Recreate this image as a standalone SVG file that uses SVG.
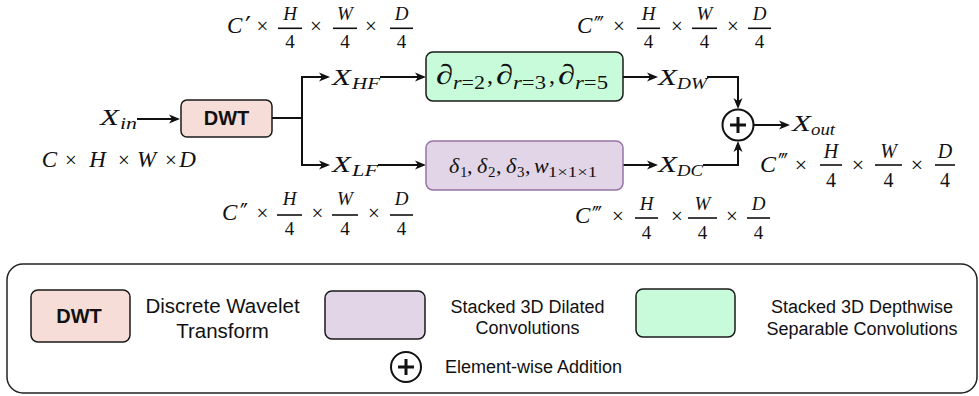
<svg xmlns="http://www.w3.org/2000/svg" width="979" height="396" viewBox="0 0 979 396">
<defs>
<style>
.m{font-family:"Liberation Serif","DejaVu Serif",serif;fill:#111}
.i{font-style:italic}
.p{font-family:"DejaVu Serif",serif;fill:#111}
.s{font-family:"Liberation Sans",Arial,sans-serif;fill:#111}
.b{font-weight:bold}
.bar{stroke:#111;stroke-width:1.6}
.c{fill:none;stroke:#111;stroke-width:2}
.box{stroke:#1a1a1a;stroke-width:1.5}
</style>
<marker id="ah" markerUnits="userSpaceOnUse" markerWidth="11" markerHeight="10" refX="3" refY="5" orient="auto">
<path d="M0,0.5 L11,5 L0,9.5 L3,5 Z" fill="#111"/>
</marker>
</defs>
<rect width="979" height="396" fill="#fff"/>

<g id="connectors">
<path class="c" d="M137,119 H172" marker-end="url(#ah)"/>
<path class="c" d="M272,118 H302 V77 H322" marker-end="url(#ah)"/>
<path class="c" d="M302,118 V165 H322" marker-end="url(#ah)"/>
<path class="c" d="M380,77 H418" marker-end="url(#ah)"/>
<path class="c" d="M378,165 H418" marker-end="url(#ah)"/>
<path class="c" d="M623,77 H650" marker-end="url(#ah)"/>
<path class="c" d="M623,165 H650" marker-end="url(#ah)"/>
<path class="c" d="M707,77 H738 V101" marker-end="url(#ah)"/>
<path class="c" d="M703,165 H738 V149" marker-end="url(#ah)"/>
<path class="c" d="M754,125 H782" marker-end="url(#ah)"/>
</g>

<g id="dwt">
<rect class="box" x="181" y="100" width="91" height="37" rx="6" fill="#f6ddd8"/>
<text class="s b" x="226.5" y="125" font-size="20" text-anchor="middle">DWT</text>
</g>

<g id="dw-conv">
<rect class="box" x="426" y="52" width="197" height="49" rx="7" fill="#c8fbd9"/>
<text class="m i" font-size="28" x="436" y="84" textLength="17" lengthAdjust="spacingAndGlyphs">∂</text>
<text class="m" font-size="18" x="453" y="89" textLength="32" lengthAdjust="spacingAndGlyphs"><tspan class="i">r</tspan>=2</text>
<text class="m" font-size="24" x="487" y="83">,</text>
<text class="m i" font-size="28" x="496" y="84" textLength="17" lengthAdjust="spacingAndGlyphs">∂</text>
<text class="m" font-size="18" x="513" y="89" textLength="33" lengthAdjust="spacingAndGlyphs"><tspan class="i">r</tspan>=3</text>
<text class="m" font-size="24" x="549" y="83">,</text>
<text class="m i" font-size="28" x="558" y="84" textLength="17" lengthAdjust="spacingAndGlyphs">∂</text>
<text class="m" font-size="18" x="575" y="89" textLength="33" lengthAdjust="spacingAndGlyphs"><tspan class="i">r</tspan>=5</text>
</g>

<g id="dil-conv">
<rect x="426" y="141" width="197" height="49" rx="7" fill="#e1d5e7" stroke="#9673a6" stroke-width="1.5"/>
<text class="m i" font-size="22" x="449" y="173">δ</text>
<text class="m" font-size="15" x="460" y="177">1</text>
<text class="m" font-size="22" x="467" y="173">,</text>
<text class="m i" font-size="22" x="477" y="173">δ</text>
<text class="m" font-size="15" x="488" y="177">2</text>
<text class="m" font-size="22" x="496" y="173">,</text>
<text class="m i" font-size="22" x="506" y="173">δ</text>
<text class="m" font-size="15" x="517" y="177">3</text>
<text class="m" font-size="22" x="525" y="173">,</text>
<text class="m i" font-size="22" x="534" y="173">w</text>
<text class="m" font-size="15" x="548" y="177" textLength="49" lengthAdjust="spacingAndGlyphs">1×1×1</text>
</g>

<g id="add">
<circle cx="738" cy="125" r="15.5" fill="#fff" stroke="#111" stroke-width="2"/>
<path d="M730,125 H746 M738,117 V133" stroke="#111" stroke-width="3"/>
</g>

<g id="x-labels">
<text class="m i" font-size="24" x="100" y="125" textLength="19" lengthAdjust="spacingAndGlyphs">X</text>
<text class="m i" font-size="16" x="120" y="129" textLength="17" lengthAdjust="spacingAndGlyphs">in</text>
<text class="m i" font-size="24" x="332" y="85" textLength="19" lengthAdjust="spacingAndGlyphs">X</text>
<text class="m i" font-size="16" x="352" y="89" textLength="28" lengthAdjust="spacingAndGlyphs">HF</text>
<text class="m i" font-size="24" x="332" y="172" textLength="19" lengthAdjust="spacingAndGlyphs">X</text>
<text class="m i" font-size="16" x="352" y="176" textLength="26" lengthAdjust="spacingAndGlyphs">LF</text>
<text class="m i" font-size="24" x="658" y="85" textLength="19" lengthAdjust="spacingAndGlyphs">X</text>
<text class="m i" font-size="16" x="677" y="89" textLength="30" lengthAdjust="spacingAndGlyphs">DW</text>
<text class="m i" font-size="24" x="658" y="172" textLength="19" lengthAdjust="spacingAndGlyphs">X</text>
<text class="m i" font-size="16" x="677" y="176" textLength="26" lengthAdjust="spacingAndGlyphs">DC</text>
<text class="m i" font-size="24" x="792" y="131" textLength="19" lengthAdjust="spacingAndGlyphs">X</text>
<text class="m i" font-size="16" x="811" y="135" textLength="24" lengthAdjust="spacingAndGlyphs">out</text>
</g>

<g id="dim-in">
<text class="m i" font-size="23" x="49.5" y="167" text-anchor="middle">C</text>
<text class="m" font-size="21" x="71" y="167" text-anchor="middle">×</text>
<text class="m i" font-size="23" x="97.5" y="167" text-anchor="middle">H</text>
<text class="m" font-size="21" x="124" y="167" text-anchor="middle">×</text>
<text class="m i" font-size="23" x="146.5" y="167" text-anchor="middle">W</text>
<text class="m" font-size="21" x="171" y="167" text-anchor="middle">×</text>
<text class="m i" font-size="23" x="187.5" y="167" text-anchor="middle">D</text>
</g>

<g id="dim-hf">
<text class="m i" font-size="23" x="227" y="33">C</text><text class="p" font-size="26" x="245" y="35" textLength="6" lengthAdjust="spacingAndGlyphs">′</text>
<text class="m" font-size="21" x="262.5" y="33" text-anchor="middle">×</text>
<text class="m i" font-size="19" x="290" y="20" text-anchor="middle">H</text>
<line class="bar" x1="278" y1="28.3" x2="302" y2="28.3"/>
<text class="m" font-size="19" x="290" y="48" text-anchor="middle">4</text>
<text class="m" font-size="21" x="316" y="33" text-anchor="middle">×</text>
<text class="m i" font-size="19" x="345" y="20" text-anchor="middle">W</text>
<line class="bar" x1="333" y1="28.3" x2="357" y2="28.3"/>
<text class="m" font-size="19" x="345" y="48" text-anchor="middle">4</text>
<text class="m" font-size="21" x="371" y="33" text-anchor="middle">×</text>
<text class="m i" font-size="19" x="401.5" y="20" text-anchor="middle">D</text>
<line class="bar" x1="390" y1="28.3" x2="413" y2="28.3"/>
<text class="m" font-size="19" x="401.5" y="48" text-anchor="middle">4</text>
</g>

<g id="dim-dw">
<text class="m i" font-size="23" x="577" y="33">C</text><text class="p" font-size="26" x="594" y="35" textLength="10" lengthAdjust="spacingAndGlyphs">‴</text>
<text class="m" font-size="21" x="619" y="33" text-anchor="middle">×</text>
<text class="m i" font-size="19" x="648.5" y="20" text-anchor="middle">H</text>
<line class="bar" x1="637" y1="28.3" x2="660" y2="28.3"/>
<text class="m" font-size="19" x="648.5" y="48" text-anchor="middle">4</text>
<text class="m" font-size="21" x="677" y="33" text-anchor="middle">×</text>
<text class="m i" font-size="19" x="704.5" y="20" text-anchor="middle">W</text>
<line class="bar" x1="692" y1="28.3" x2="717" y2="28.3"/>
<text class="m" font-size="19" x="704.5" y="48" text-anchor="middle">4</text>
<text class="m" font-size="21" x="733" y="33" text-anchor="middle">×</text>
<text class="m i" font-size="19" x="759.5" y="20" text-anchor="middle">D</text>
<line class="bar" x1="748" y1="28.3" x2="771" y2="28.3"/>
<text class="m" font-size="19" x="759.5" y="48" text-anchor="middle">4</text>
</g>

<g id="dim-lf">
<text class="m i" font-size="23" x="222" y="220">C</text><text class="p" font-size="26" x="240" y="222" textLength="8" lengthAdjust="spacingAndGlyphs">″</text>
<text class="m" font-size="21" x="262.5" y="220" text-anchor="middle">×</text>
<text class="m i" font-size="19" x="289.5" y="205" text-anchor="middle">H</text>
<line class="bar" x1="277" y1="215" x2="302" y2="215"/>
<text class="m" font-size="19" x="289.5" y="235" text-anchor="middle">4</text>
<text class="m" font-size="21" x="317.5" y="220" text-anchor="middle">×</text>
<text class="m i" font-size="19" x="345" y="205" text-anchor="middle">W</text>
<line class="bar" x1="332" y1="215" x2="358" y2="215"/>
<text class="m" font-size="19" x="345" y="235" text-anchor="middle">4</text>
<text class="m" font-size="21" x="374" y="220" text-anchor="middle">×</text>
<text class="m i" font-size="19" x="401.5" y="205" text-anchor="middle">D</text>
<line class="bar" x1="390" y1="215" x2="413" y2="215"/>
<text class="m" font-size="19" x="401.5" y="235" text-anchor="middle">4</text>
</g>

<g id="dim-dc">
<text class="m i" font-size="23" x="575" y="223">C</text><text class="p" font-size="26" x="592" y="225" textLength="10" lengthAdjust="spacingAndGlyphs">‴</text>
<text class="m" font-size="21" x="618" y="223" text-anchor="middle">×</text>
<text class="m i" font-size="19" x="646.5" y="210" text-anchor="middle">H</text>
<line class="bar" x1="635" y1="218" x2="658" y2="218"/>
<text class="m" font-size="19" x="646.5" y="239" text-anchor="middle">4</text>
<text class="m" font-size="21" x="677" y="223" text-anchor="middle">×</text>
<text class="m i" font-size="19" x="702.5" y="210" text-anchor="middle">W</text>
<line class="bar" x1="688" y1="218" x2="717" y2="218"/>
<text class="m" font-size="19" x="702.5" y="239" text-anchor="middle">4</text>
<text class="m" font-size="21" x="732" y="223" text-anchor="middle">×</text>
<text class="m i" font-size="19" x="758.5" y="210" text-anchor="middle">D</text>
<line class="bar" x1="747" y1="218" x2="770" y2="218"/>
<text class="m" font-size="19" x="758.5" y="239" text-anchor="middle">4</text>
</g>

<g id="dim-out">
<text class="m i" font-size="24" x="760" y="172">C</text><text class="p" font-size="27" x="778" y="174" textLength="10" lengthAdjust="spacingAndGlyphs">‴</text>
<text class="m" font-size="22" x="801" y="172" text-anchor="middle">×</text>
<text class="m i" font-size="20" x="831" y="158" text-anchor="middle">H</text>
<line class="bar" x1="820" y1="165" x2="842" y2="165"/>
<text class="m" font-size="20" x="831" y="187" text-anchor="middle">4</text>
<text class="m" font-size="22" x="858" y="172" text-anchor="middle">×</text>
<text class="m i" font-size="20" x="888.5" y="158" text-anchor="middle">W</text>
<line class="bar" x1="875" y1="165" x2="902" y2="165"/>
<text class="m" font-size="20" x="888.5" y="187" text-anchor="middle">4</text>
<text class="m" font-size="22" x="917" y="172" text-anchor="middle">×</text>
<text class="m i" font-size="20" x="945" y="158" text-anchor="middle">D</text>
<line class="bar" x1="935" y1="165" x2="955" y2="165"/>
<text class="m" font-size="20" x="945" y="187" text-anchor="middle">4</text>
</g>

<g id="legend">
<rect x="7" y="264" width="970" height="129" rx="16" fill="none" stroke="#222" stroke-width="1.5"/>
<rect class="box" x="31" y="290" width="99" height="52" rx="7" fill="#f6ddd8"/>
<text class="s b" x="79" y="323" font-size="20" text-anchor="middle">DWT</text>
<text class="s" x="222.5" y="313" font-size="20.5" text-anchor="middle">Discrete Wavelet</text>
<text class="s" x="222.5" y="338" font-size="20.5" text-anchor="middle">Transform</text>
<rect x="325" y="291" width="100" height="48" rx="7" fill="#e1d5e7" stroke="#1a1a1a" stroke-width="1.5"/>
<text class="s" x="527.5" y="313" font-size="18" text-anchor="middle">Stacked 3D Dilated</text>
<text class="s" x="527.5" y="334" font-size="18" text-anchor="middle">Convolutions</text>
<rect class="box" x="636" y="289" width="99" height="48" rx="7" fill="#c8fbd9"/>
<text class="s" x="862" y="313" font-size="18" text-anchor="middle">Stacked 3D Depthwise</text>
<text class="s" x="862" y="335" font-size="18" text-anchor="middle">Separable Convolutions</text>
<circle cx="406" cy="367" r="15" fill="#fff" stroke="#111" stroke-width="2"/>
<path d="M398,367 H414 M406,359 V375" stroke="#111" stroke-width="3"/>
<text class="s" x="445" y="373" font-size="18">Element-wise Addition</text>
</g>
</svg>
